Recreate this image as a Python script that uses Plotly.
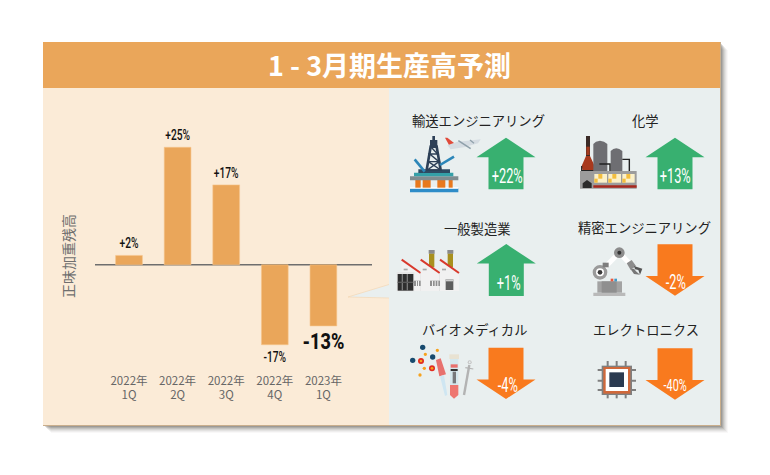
import plotly.graph_objects as go

W, H = 770, 475
TITLE = "1 - 3月期生産高予測"
Y_TITLE = "正味加重残高"
quarters = ["2022年<br>1Q", "2022年<br>2Q", "2022年<br>3Q", "2022年<br>4Q", "2023年<br>1Q"]
net_balance = [2, 25, 17, -17, -13]
sectors = ["輸送エンジニアリング", "化学", "一般製造業", "精密エンジニアリング", "バイオメディカル", "エレクトロニクス"]
sector_values = [22, 13, 1, -2, -4, -40]

ORANGE = "#EAA65A"; CREAM = "#FBEBD7"; PALE = "#E9EFEF"
GREEN = "#38B070"; DOWN = "#F97A1E"
JP = "Noto Sans CJK JP"; NARROW = "Roboto"

shapes = []
def px(x): return x / W
def py(y): return 1 - y / H
def path(pts, color, line=None, lw=0, close=True):
    d = "M" + " L".join(f"{px(x):.5f},{py(y):.5f}" for x, y in pts) + (" Z" if close else "")
    shapes.append(dict(type="path", path=d, xref="paper", yref="paper", layer="below",
                       fillcolor=color if close else "rgba(0,0,0,0)",
                       line=dict(color=line or "rgba(0,0,0,0)", width=lw)))
def rect(x0, y0, x1, y1, color):
    path([(x0, y0), (x1, y0), (x1, y1), (x0, y1)], color)
def line(pts, color, lw=1):
    path(pts, color, line=color, lw=lw, close=False)
def circ(cx, cy, r, color):
    shapes.append(dict(type="circle", xref="paper", yref="paper", layer="below",
                       x0=px(cx - r), x1=px(cx + r), y0=py(cy + r), y1=py(cy - r),
                       fillcolor=color, line=dict(width=0)))

class Z:
    """Drawing helper using coordinates of a 3x crop."""
    def __init__(s, ox, oy): s.ox, s.oy = ox, oy
    def p(s, x, y): return (s.ox + x / 3, s.oy + y / 3)
    def rect(s, a, b, c, d, col): rect(*s.p(a, b), *s.p(c, d), col)
    def poly(s, pts, col): path([s.p(*q) for q in pts], col)
    def line(s, pts, col, lw=1): line([s.p(*q) for q in pts], col, lw)
    def circ(s, x, y, r, col): circ(*s.p(x, y), r / 3, col)

# drop shadow
for d, a in [(8, .04), (7, .06), (6, .08), (5, .10), (4, .14), (3, .18), (2, .22)]:
    rect(43 + d, 42 + d, 720 + d, 425 + d, f"rgba(90,85,80,{a})")
rect(43, 42, 721, 426, "#C9AE8C")
# panels
rect(43, 88, 389, 425, CREAM)
rect(389, 88, 720, 425, PALE)
rect(43, 42, 720, 88, ORANGE)
# callout
path([(348, 297), (389, 284.5), (389, 298)], PALE)
line([(348, 297), (389, 284.5)], "#F3D3AC", 0.6)
line([(348, 297), (389, 298)], "#F3D3AC", 0.6)
# zero line
rect(95, 264, 372, 265.6, "#6E6E6E")

# arrows driven by sign of value
arrow_geom = [(506, 137.7, 189.3), (675, 137.7, 189.3), (506.3, 244, 296),
              (675, 244.3, 295.7), (506, 347.7, 399), (675, 348.3, 399.7)]
for v, (cx, top, bot) in zip(sector_values, arrow_geom):
    if v >= 0:
        n = top + 19.6
        path([(cx, top), (cx + 29.5, n), (cx + 17.5, n), (cx + 17.5, bot),
              (cx - 17.5, bot), (cx - 17.5, n), (cx - 29.5, n)], GREEN)
    else:
        n = bot - 19.6
        path([(cx, bot), (cx + 29.5, n), (cx + 17.5, n), (cx + 17.5, top),
              (cx - 17.5, top), (cx - 17.5, n), (cx - 29.5, n)], DOWN)

# ---- icon: oil rig + plane
z = Z(390, 100)
z.rect(60, 265, 205, 277, "#2E8CC8")
z.rect(60, 262, 205, 266, "#FFFFFF")
for a, b in [(76, 92), (98, 122), (142, 166), (176, 188)]:
    z.rect(a, 240, b, 263, "#E8791E")
z.rect(60, 229, 205, 241, "#7F8C90")
z.rect(72, 218, 190, 229, "#34A0A8")
z.rect(85, 208, 180, 219, "#2D4A62")
z.line([(110, 210), (122, 140), (140, 140), (152, 210)], "#2D4057", 2.6)
z.line([(115, 185), (147, 185), (119, 162), (143, 162), (122, 140)], "#2D4057", 1.4)
z.line([(147, 185), (112, 210), (152, 210), (115, 185)], "#2D4057", 1.4)
z.rect(120, 120, 142, 140, "#2D4057")
z.rect(127, 108, 135, 120, "#2D4057")
z.line([(74, 178), (104, 215)], "#2C86B8", 2.6)
z.line([(192, 170), (150, 195)], "#2C86B8", 2.6)
z.poly([(165, 113), (172, 113), (195, 131), (180, 140)], "#E04A3A")
z.poly([(172, 136), (200, 126), (272, 118), (264, 130), (222, 142), (182, 148)], "#D5DCE2")
z.line([(205, 122), (242, 146)], "#8FA0AA", 1.6)
z.line([(240, 120), (252, 130)], "#8FA0AA", 1.2)

# ---- icon: chemical plant
z = Z(560, 100)
z.rect(78, 108, 90, 170, "#3A2A26")
z.rect(79, 140, 89, 165, "#A33A1E")
z.poly([(78, 168), (90, 168), (105, 200), (100, 214), (68, 214), (65, 198)], "#A8391D")
z.poly([(100, 132), (108, 125), (120, 122), (132, 125), (142, 132), (142, 215), (100, 215)], "#6E6E72")
z.poly([(152, 153), (160, 147), (169, 145), (178, 147), (187, 153), (187, 215), (152, 215)], "#6E6E72")
z.line([(118, 192), (150, 192), (150, 214)], "#222222", 1.4)
z.line([(187, 178), (208, 178), (208, 214)], "#222222", 1.4)
z.line([(65, 198), (65, 212), (100, 212)], "#222222", 1.2)
z.rect(60, 213, 230, 266, "#9C9C9C")
for a, b in [(103, 141), (145, 183), (187, 224)]:
    z.rect(a, 222, b, 248, "#FBF0C8")
    z.rect(a + 12, 222, a + 24, 236, "#F3BE3E")
    z.rect(a, 236, a + 10, 248, "#F3BE3E")
z.rect(100, 256, 230, 263, "#A8281E")
z.poly([(68, 264), (68, 250), (81, 240), (95, 250), (95, 264)], "#2B2B2B")

# ---- icon: factories
z = Z(390, 210)
for x in (117, 173):
    z.rect(x, 130, x + 16, 172, "#A8901E")
    z.rect(x - 1, 120, x + 17, 131, "#8A8A8A")
for x in (35, 92, 150):
    z.poly([(x, 150), (x + 57, 190), (x + 57, 243), (x, 243)], "#F1F1F1")
    z.poly([(x + 57, 190), (x + 57, 243), (x + 75 if x < 150 else x + 57, 243)], "#CFCFCF")
    z.line([(x, 149), (x + 57, 189)], "#D8392C", 2)
    z.rect(x + 6, 176, x + 18, 181, "#A8A8A8")
z.rect(20, 186, 73, 244, "#E6E6E6")
z.rect(23, 192, 70, 242, "#2E2E2E")
for x in (35, 50):
    z.rect(x, 192, x + 4, 242, "#7A7A7A")
z.rect(23, 215, 70, 219, "#5A5A5A")
z.rect(72, 212, 92, 228, "#8F8F8F")
z.rect(120, 212, 150, 228, "#8F8F8F")
for x in (78, 84, 126, 134, 142):
    z.rect(x, 212, x + 3, 228, "#F1F1F1")
z.rect(167, 208, 190, 240, "#5E5E5E")
z.rect(167, 208, 190, 214, "#CFCFCF")

# ---- icon: robot arm
z = Z(560, 210)
z.line([(120, 187), (178, 128), (214, 166)], "#FFFFFF", 5)
z.rect(100, 248, 196, 258, "#B9B9B9")
z.rect(112, 214, 186, 248, "#A3A3A3")
z.rect(125, 214, 170, 248, "#8F8F8F")
z.rect(152, 206, 160, 214, "#E8573E")
z.rect(163, 206, 171, 214, "#3E9AC8")
z.circ(120, 187, 22, "#9A9A9A")
z.circ(120, 187, 12, "#FFFFFF")
z.circ(120, 187, 7, "#3A3A3A")
z.circ(178, 128, 16, "#8C8C8C")
z.circ(178, 128, 6, "#333333")
z.rect(128, 158, 146, 172, "#7E7E7E")
z.poly([(200, 160), (215, 150), (228, 168), (212, 180)], "#8C8C8C")
z.poly([(222, 168), (247, 176), (240, 194), (235, 180), (225, 178)], "#555555")
z.poly([(212, 178), (222, 176), (228, 184), (240, 194), (222, 192)], "#777777")

# ---- icon: bio
z = Z(390, 315)
for x, y in [(98, 97), (68, 136), (128, 126)]:
    z.circ(x, y, 8, "#174A6E")
for x, y in [(93, 138), (126, 160)]:
    z.circ(x, y, 9, "#E12B1F")
    z.circ(x, y, 4, "#F6A21D")
for x, y in [(142, 106), (106, 118), (103, 160), (90, 180)]:
    z.circ(x, y, 5, "#F6A21D")
z.poly([(138, 135), (152, 130), (168, 178), (148, 184)], "#E8716E")
z.poly([(150, 184), (162, 181), (172, 240), (165, 243)], "#CFE6F2")
z.rect(178, 118, 207, 132, "#E8E2D2")
z.rect(180, 132, 205, 210, "#D5E8EE")
z.rect(182, 148, 203, 158, "#E8716E")
z.rect(182, 162, 203, 168, "#333333")
z.rect(188, 170, 198, 205, "#77797C")
z.poly([(180, 210), (205, 210), (205, 240), (192, 251), (180, 240)], "#EE7670")
z.line([(238, 150), (222, 240)], "#B3B3B3", 2.4)
z.circ(239, 142, 6, "#C4C4C4")
z.circ(239, 142, 3, PALE)
z.line([(226, 158), (250, 162)], "#B3B3B3", 1.2)

# ---- icon: chip
z = Z(560, 315)
for x in (143, 170, 197):
    z.rect(x - 3, 138, x + 3, 250, "#7F7F7F")
for y in (165, 197, 225):
    z.rect(113, y - 3, 228, y + 3, "#7F7F7F")
z.rect(125, 152, 216, 240, "#7F7F7F")
z.rect(130, 156, 211, 236, "#D0683A")
z.rect(137, 162, 204, 228, "#FFFFFF")
z.rect(148, 172, 192, 216, "#2B3A50")

ann = []
def text(x, y, s, size, color, font=JP, angle=0, bold=False, weight=None):
    f = dict(family=font, size=size, color=color)
    if weight: f["weight"] = weight
    ann.append(dict(x=px(x), y=py(y), xref="paper", yref="paper", text=f"<b>{s}</b>" if bold else s,
                    showarrow=False, xanchor="center", yanchor="middle", textangle=angle, font=f))

text(390, 65, TITLE, 27, "#FFFFFF", bold=True)
text(68, 256, Y_TITLE, 14, "#6F6F6F", angle=-90)
title_pos = [(478, 120.5), (645, 120.5), (477, 228), (644, 227.5), (474, 329), (645.5, 329)]
for s, (x, y) in zip(sectors, title_pos):
    text(x, y, s, 13.3, "#222222")
label_pos = [(507, 176), (675, 176), (508, 283), (675, 282), (507, 385), (675, 385)]
label_size = [20, 20, 20, 20, 20, 17]
for v, (x, y), sz in zip(sector_values, label_pos, label_size):
    text(x, y, f"{v:+d}%", sz, "#FFFFFF", font=NARROW)

# axis pixel frame for bars
PX_PER_UNIT = 4.7; ZERO_Y = 264.8; TOP, BOTTOM = 120, 372
X0, X1 = 104.7, 347.7
fig = go.Figure(go.Bar(
    x=quarters, y=net_balance, width=0.55,
    marker=dict(color=ORANGE, line=dict(color="#F6C48C", width=0.6)),
    text=[f"{v:+d}%" for v in net_balance], textposition="outside", constraintext="none",
    textfont=dict(family=NARROW, color="#111111", size=[15, 15, 15, 15, 22],
                  weight=[500, 500, 500, 500, 800]),
    textangle=0, cliponaxis=False, hoverinfo="skip",
))
fig.update_layout(
    width=W, height=H, margin=dict(l=0, r=0, t=0, b=0), autosize=False,
    paper_bgcolor="#FFFFFF", plot_bgcolor="rgba(0,0,0,0)", showlegend=False,
    shapes=shapes, annotations=ann,
    xaxis=dict(domain=[X0 / W, X1 / W], showgrid=False, zeroline=False, showline=False, ticks="",
               side="bottom", tickfont=dict(family=JP, size=11.5, color="#666666")),
    yaxis=dict(domain=[py(BOTTOM), py(TOP)], visible=False,
               range=[(ZERO_Y - BOTTOM) / PX_PER_UNIT, (ZERO_Y - TOP) / PX_PER_UNIT]),
)
# condense the percentage labels (the reference uses a condensed display face)
POST = """
document.body.style.margin='0';
document.querySelectorAll('svg text').forEach(function(t){
  if(!/^[+-]\\d+%$/.test(t.textContent)) return;
  var cs = getComputedStyle(t), size = parseFloat(cs.fontSize);
  var white = cs.fill.indexOf('255, 255, 255') >= 0;
  var k = white ? 0.64 : (size >= 20 ? 0.82 : 0.68);
  t.setAttribute('textLength', t.getComputedTextLength() * k);
  t.setAttribute('lengthAdjust', 'spacingAndGlyphs');
});
"""
fig.write_html("out.html", post_script=POST, config=dict(displayModeBar=False))
